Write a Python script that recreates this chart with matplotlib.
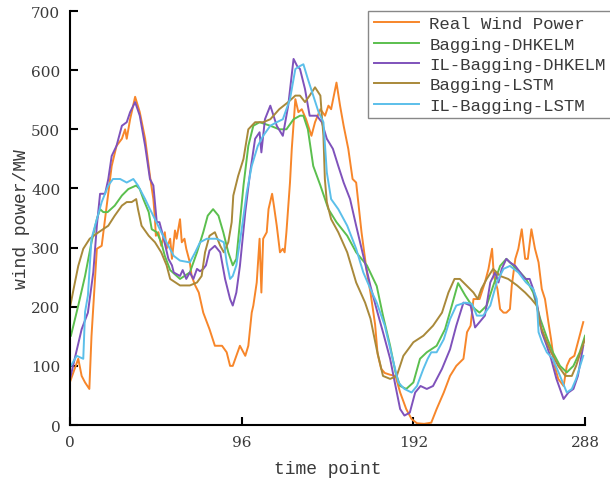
import matplotlib
matplotlib.use("Agg")
import matplotlib.pyplot as plt

# values (time point, MW)
real_x = [0, 4.6, 6.5, 8.4, 10.8, 12, 15, 17.7, 20.5, 23.3, 26, 29, 30.8, 31.7, 33.6, 36.4, 39, 42,
          44.7, 46.6, 47.5, 48, 49.4, 51, 53, 54, 56, 57, 58.7, 59.6, 61.5, 62.5, 64, 65, 67, 68,
          70, 72, 74.5, 78, 81, 85, 87.6, 89.5, 91, 95, 98, 99.7, 101.6, 102.5, 104.4, 106, 107,
          108, 110, 111, 113, 114, 115.6, 117.4, 119, 120, 121, 123, 124,
          126, 127.7, 129.6, 132, 135, 137, 140, 142.6, 144.5, 146, 149, 151, 153, 155.6, 158, 160,
          163, 166, 168, 170.6, 172, 174, 176, 179, 182, 184.6, 188, 191, 194, 198, 202, 205, 209,
          212.5, 216, 220, 222, 224, 225.6, 229, 232, 234, 236, 237, 239, 240.5, 242.4, 244, 246,
          247, 249, 250.7, 252.6, 254.5, 256, 258, 260, 262, 263.8, 265.6, 267.5, 269, 271, 273,
          276, 277.8, 279.6, 282, 285, 287]
real_y = [73, 112, 83, 72, 61, 150, 298, 303, 371, 438, 472, 484, 500, 484, 517, 555, 529, 484,
          421, 382, 348, 320, 326, 303, 326, 298, 315, 281, 329, 315, 348, 309, 315, 298, 275, 252,
          236, 224, 190, 162, 134, 134, 123, 100, 100, 134, 117, 134, 190, 202, 241, 315, 224,
          315, 326, 365, 391, 371, 337, 292, 298, 292, 326, 410, 467,
          551, 529, 534, 517, 489, 512, 534, 523, 540, 534, 579, 540, 506, 467, 416, 410,
          326, 258, 224, 170, 120, 95, 88, 85, 83, 55, 27, 10, 3, 2, 4, 27, 55,
          83, 100, 112, 157, 168, 213, 213, 241, 264, 298, 252, 230, 196, 190, 190, 196,
          235, 281, 298, 331, 281, 281, 331, 298, 275, 230, 213, 174, 145, 100, 78,
          66, 100, 112, 117, 151, 174]

dhkelm_x = [0.5, 4.6, 8.4, 12, 15, 16.8, 18.6, 21, 25, 29, 32.6, 37, 39, 41, 44, 45.7, 48.5, 51, 53,
            56, 61.5, 67, 71, 74.5, 77, 80, 83, 85.7, 88.5, 91, 93, 95, 97, 99.7, 102.5, 106, 112,
            117, 121, 125, 128.6, 130.5, 133, 136, 140, 144.5, 149, 155, 160, 166, 171.5, 175, 179,
            182, 184.6, 188, 192, 195.7, 199.5, 205, 209.7, 213.5, 217, 221, 224.7, 226.5, 229,
            233, 236.6, 240.5, 244, 248, 251.7, 255, 259, 263, 267, 270, 274, 277.8, 281.5, 285, 288]
dhkelm_y = [151, 202, 252, 309, 348, 365, 360, 360, 371, 388, 399, 405, 399, 382, 360, 331, 326, 309, 286,
            262, 247, 258, 292, 326, 354, 365, 354, 326, 292, 270, 281, 343, 405, 472, 506, 512, 506,
            500, 500, 517, 523, 523, 500, 438, 405, 365, 343, 320, 292, 270, 235, 185, 134,
            89, 66, 61, 72, 112, 123, 134, 162, 202, 240, 219, 202, 196, 190,
            202, 235, 269, 281, 269, 258, 247, 224, 179, 145, 123, 100, 89, 100, 123, 151]

il_dhkelm_x = [0, 3, 6.5, 10, 13, 15, 16.8, 19.6, 21.4, 23.3, 26, 29, 31.7, 33.6, 36.4, 39, 42, 44.7,
               46.6, 48.5, 50, 52, 55, 57, 58, 61.5, 63, 65, 67, 69, 71, 72.7, 74.5, 76, 78, 81, 84,
               86.7, 89.5, 91, 93,
               95, 98, 100.7, 103.5, 106, 107, 109, 112, 115.6, 119, 122, 125, 127, 128.6, 131.4,
               134, 138, 140.8, 143.6, 147, 150, 153, 156.6, 160, 164, 168, 171.5, 175, 179, 182,
               184.6, 187, 190, 193, 196, 199.5, 203, 208, 212.5, 216, 220, 224, 226.5, 229, 232,
               235, 237.7, 239.6, 241.4, 244, 246, 249, 251.7, 254.5, 257, 259, 261, 263.8, 266.6,
               269, 272, 276, 278.7, 281.5, 284, 287]
il_dhkelm_y = [78, 117, 162, 190, 258, 337, 391, 391, 416, 455, 472, 506, 512, 529, 546, 523, 472, 416,
               405, 343, 343, 320, 281, 270, 258, 252, 262, 247, 258, 247, 264, 260, 264, 270, 295, 303,
               292, 247, 213, 202, 224,
               269, 360, 427, 484, 495, 461, 517, 540, 506, 489, 540, 619, 607, 602, 568,
               523, 523, 512, 484, 467, 438, 410, 382, 337, 286, 235, 195, 157, 112, 66,
               27, 16, 21, 55, 66, 61, 66, 95, 128, 168, 207, 202, 165, 174, 185,
               241, 258, 241, 264, 281, 275, 269, 258, 247, 247, 230, 207, 157, 134,
               112, 78, 44, 55, 61, 83, 134]

lstm_x = [0, 2, 4.6, 7.4, 11, 16, 21.4, 25, 29, 31.7, 34.5, 37, 38, 40, 44, 47.5, 51, 54, 56, 61.5,
          67, 71, 73.6, 75.5, 78, 81, 84, 86, 88.5, 90.4, 91.3, 94, 97, 99.7, 103.5, 108, 112, 117,
          122, 126, 128.6, 131.4, 134, 137, 140, 140.8, 141.7, 142.5, 143.6, 146, 150, 155, 160,
          165, 168, 171.5, 175, 179, 182.7, 186.4, 192, 197.6, 203, 208, 211.6, 215, 218, 222,
          225.6, 228, 230, 233, 236.6, 240.5, 245, 250, 254.5, 258, 261, 263, 266, 269, 273, 277,
          280.6, 283, 286, 288]
lstm_y = [199, 230, 269, 298, 315, 326, 337, 354, 371, 377, 377, 382, 365, 337, 320, 309, 292, 270, 247, 236,
          236, 241, 252, 292, 320, 326, 303, 292, 309, 343, 388, 421, 450, 500, 512, 512, 517, 534,
          546, 557, 557, 546, 557, 571, 557, 523, 489, 416, 377, 348, 326, 292, 241,
          207, 180, 128, 83, 78, 83, 117, 140, 151, 168, 190, 224, 247, 247, 235,
          224, 213, 230, 247, 264, 252, 247, 236, 224, 213, 202, 168, 145, 123, 100, 83,
          83, 100, 128, 145]

il_lstm_x = [0.5, 3.7, 7.4, 8.4, 10, 12, 15, 17.7, 21.4, 24, 28, 31.7, 35.4, 38, 42, 44.7, 47.5, 51,
             55, 58, 61.5, 67, 70, 72.7, 76.5, 82, 86, 87.6, 89.5, 91, 93, 96, 98.8, 101.6, 105,
             108, 112, 115.6, 119, 123, 126, 128.6, 130.5, 133, 136, 139, 141.7, 142.6, 143.6,
             146, 150, 155, 160, 164, 168, 171.5, 176, 180, 183.6, 187, 191, 194, 197.6, 200,
             202, 205, 209, 212.5, 216, 221, 224.7, 227.5, 231, 235, 238.6, 242.4, 246, 250.7,
             255, 259, 261, 262, 264, 266.6, 270, 274, 277.8, 280.6, 283, 287]
il_lstm_y = [100, 117, 112, 191, 219, 315, 348, 377, 405, 416, 416, 410, 416, 405, 382, 365, 348, 326,
             303, 286, 278, 275, 292, 309, 315, 315, 309, 275, 247, 252, 270, 331, 393, 438, 472,
             489, 506, 512, 517, 551, 602, 607, 610, 585, 557, 529, 512, 472, 427,
             382, 365, 337, 298, 258, 230, 207, 168, 117, 72, 61, 55, 66, 95, 112,
             123, 123, 145, 179, 202, 207, 205, 185, 185, 202, 241, 264, 269, 258,
             241, 230, 213, 157, 140, 123, 112, 83, 55, 61, 78, 117]

series = [
    ("Real Wind Power", real_x, real_y, "#f7862a"),
    ("Bagging-DHKELM", dhkelm_x, dhkelm_y, "#5bbf4e"),
    ("IL-Bagging-DHKELM", il_dhkelm_x, il_dhkelm_y, "#7f52bb"),
    ("Bagging-LSTM", lstm_x, lstm_y, "#a9893a"),
    ("IL-Bagging-LSTM", il_lstm_x, il_lstm_y, "#5bbfea"),
]

x_ticks = [0, 96, 192, 288]
y_ticks = [0, 100, 200, 300, 400, 500, 600, 700]

text_color = "#3a3a3a"
mono = "Liberation Mono"

fig = plt.figure(figsize=(6.1, 4.85), dpi=100)
ax = fig.add_axes([0.1148, 0.1216, 0.8443, 0.8536])

for name, xs, ys, color in series:
    ax.plot(xs, ys, color=color, lw=1.4, label=name)

ax.set_xlim(0, 288)
ax.set_ylim(0, 700)
ax.set_xticks(x_ticks)
ax.set_yticks(y_ticks)
for side in ["top", "right"]:
    ax.spines[side].set_visible(False)
for side in ["left", "bottom"]:
    ax.spines[side].set_linewidth(1.5)
ax.tick_params(direction="in", length=6, width=1.5, pad=7, labelcolor=text_color,
               labelsize=11)
for lab in ax.get_xticklabels() + ax.get_yticklabels():
    lab.set_family("DejaVu Serif")

ax.set_xlabel("time point", family=mono, fontsize=13, color=text_color, labelpad=8)
ax.set_ylabel("wind power/MW", family=mono, fontsize=13, color=text_color, labelpad=1)

leg = ax.legend(loc="upper right", bbox_to_anchor=(1.05, 1.0), borderaxespad=0,
                prop={"family": mono, "size": 12.5}, frameon=True, fancybox=False,
                framealpha=1, edgecolor="#888888", handlelength=2.6, labelspacing=0.3,
                borderpad=0.3, handletextpad=0.6)
for t in leg.get_texts():
    t.set_color(text_color)
leg.get_frame().set_linewidth(1.0)

fig.savefig("out.png", dpi=100)
